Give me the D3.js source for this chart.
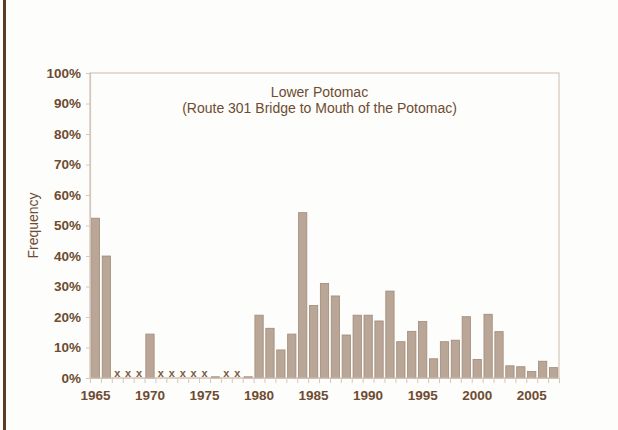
<!DOCTYPE html>
<html>
<head>
<meta charset="utf-8">
<script src="https://cdn.jsdelivr.net/npm/d3@7"></script>
<style>
  body { margin: 0; background: #fdfdfc; }
  svg { display: block; }
</style>
</head>
<body>
<div id="chart"></div>
<script>
var years = [1965, 1966, 1967, 1968, 1969, 1970, 1971, 1972, 1973, 1974, 1975, 1976, 1977, 1978, 1979,
    1980, 1981, 1982, 1983, 1984, 1985, 1986, 1987, 1988, 1989, 1990, 1991, 1992, 1993, 1994,
    1995, 1996, 1997, 1998, 1999, 2000, 2001, 2002, 2003, 2004, 2005, 2006, 2007];
// null = no sampling that year (drawn as "x")
var frequency = [52.4, 40.0, null, null, null, 14.4, null, null, null, null, null, 0.4, null, null, 0.4,
    20.6, 16.3, 9.2, 14.4, 54.2, 23.8, 31.0, 26.9, 14.1, 20.6, 20.6, 18.7, 28.5, 11.9, 15.3,
    18.5, 6.3, 11.9, 12.4, 20.1, 6.1, 20.9, 15.2, 4.0, 3.7, 2.1, 5.5, 3.4];
var yTicks = [0, 10, 20, 30, 40, 50, 60, 70, 80, 90, 100];
var xLabels = [1965, 1970, 1975, 1980, 1985, 1990, 1995, 2000, 2005];
var titleLines = ["Lower Potomac", "(Route 301 Bridge to Mouth of the Potomac)"];

var w = 618, h = 430;
var margin = {top: 73, right: 59, bottom: 52, left: 90};
var pw = w - margin.left - margin.right;
var ph = h - margin.top - margin.bottom;

var textColor = "#6e4c31";
var lineColor = "#d6c6ba";
var font = "Arial, 'Liberation Sans', sans-serif";

var svg = d3.select("#chart").append("svg")
    .attr("width", w)
    .attr("height", h)
    .style("font-family", font);

// dark frame line on the left edge
svg.append("rect")
    .attr("x", 3).attr("y", 0)
    .attr("width", 3).attr("height", h)
    .attr("fill", "#5b3b24");

var g = svg.append("g")
    .attr("transform", "translate(" + margin.left + "," + margin.top + ")");

var x = d3.scaleBand().domain(years).range([0, pw]).paddingInner(0.24).paddingOuter(0.12);
var y = d3.scaleLinear().domain([0, 100]).range([ph, 0]);

// plot border
g.append("rect")
    .attr("width", pw).attr("height", ph)
    .attr("fill", "none")
    .attr("stroke", lineColor)
    .attr("stroke-width", 1.2);

// bars
g.selectAll(".bar")
    .data(years.map(function (d, i) { return {year: d, v: frequency[i]}; })
        .filter(function (d) { return d.v !== null; }))
    .enter().append("rect")
    .attr("class", "bar")
    .attr("x", function (d) { return x(d.year); })
    .attr("y", function (d) { return y(d.v); })
    .attr("width", x.bandwidth())
    .attr("height", function (d) { return ph - y(d.v); })
    .attr("fill", "#b9a697")
    .attr("stroke", "#a08a78")
    .attr("stroke-width", 0.8);

// "x" markers for missing years
g.selectAll(".miss")
    .data(years.filter(function (d, i) { return frequency[i] === null; }))
    .enter().append("text")
    .attr("x", function (d) { return x(d) + x.bandwidth() / 2; })
    .attr("y", ph - 1)
    .attr("text-anchor", "middle")
    .attr("font-size", 11)
    .attr("font-weight", "bold")
    .attr("fill", "#7a5a40")
    .text("x");

// y axis
var yAxis = g.append("g")
    .call(d3.axisLeft(y).tickValues(yTicks).tickSize(4).tickPadding(5)
        .tickFormat(function (d) { return d + "%"; }));
yAxis.select(".domain").attr("stroke", lineColor).attr("stroke-width", 1.2);
yAxis.selectAll(".tick line").attr("stroke", lineColor);
yAxis.selectAll("text")
    .attr("fill", textColor)
    .attr("font-size", 13.5)
    .attr("font-weight", "bold")
    .attr("font-family", font);

// x axis: ticks on band edges, labels every five years
var xg = g.append("g").attr("transform", "translate(0," + ph + ")");
xg.append("line")
    .attr("x1", 0).attr("x2", pw)
    .attr("stroke", lineColor).attr("stroke-width", 1.2);
var step = x.step();
xg.selectAll(".xt")
    .data(d3.range(years.length + 1))
    .enter().append("line")
    .attr("x1", function (i) { return i * step + 0.5; })
    .attr("x2", function (i) { return i * step + 0.5; })
    .attr("y1", 0).attr("y2", 5)
    .attr("stroke", lineColor);
xg.selectAll(".xl")
    .data(xLabels)
    .enter().append("text")
    .attr("x", function (d) { return x(d) + x.bandwidth() / 2; })
    .attr("y", 22)
    .attr("text-anchor", "middle")
    .attr("font-size", 13.5)
    .attr("font-weight", "bold")
    .attr("fill", textColor)
    .text(function (d) { return d; });

// y axis title
svg.append("text")
    .attr("transform", "translate(38," + (margin.top + ph / 2) + ") rotate(-90)")
    .attr("text-anchor", "middle")
    .attr("font-size", 14)
    .attr("fill", textColor)
    .text("Frequency");

// chart title
svg.selectAll(".title")
    .data(titleLines)
    .enter().append("text")
    .attr("x", margin.left + pw / 2 - 5)
    .attr("y", function (d, i) { return 97 + i * 16; })
    .attr("text-anchor", "middle")
    .attr("font-size", 14)
    .attr("fill", textColor)
    .text(function (d) { return d; });
</script>
</body>
</html>
